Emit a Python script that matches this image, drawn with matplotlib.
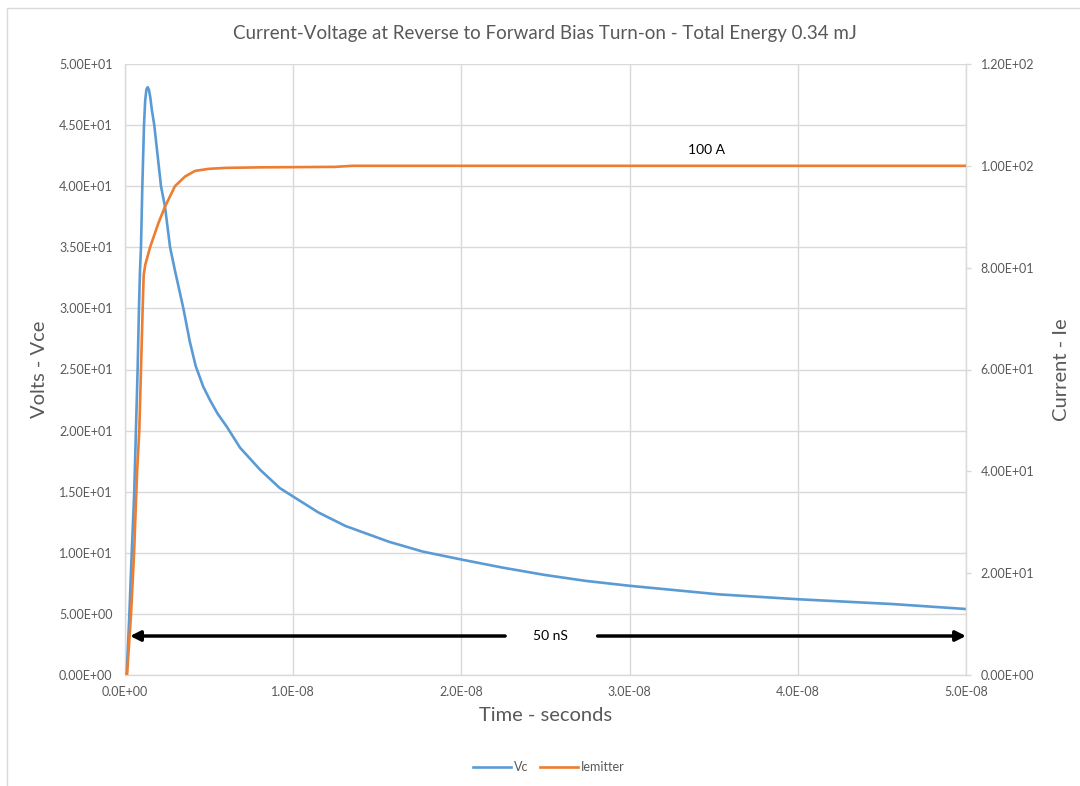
import matplotlib
matplotlib.use("Agg")
import matplotlib.pyplot as plt
from matplotlib.patches import Rectangle
from matplotlib.ticker import FuncFormatter, MultipleLocator

plt.rcParams['font.family'] = ['Lato', 'DejaVu Sans']

# ---- data (time in ns) ----
vc_t = [0.10, 0.26, 0.40, 0.55, 0.65, 0.75, 0.83, 0.89, 0.95, 1.03, 1.13, 1.20, 1.27, 1.35,
        1.42, 1.50, 1.60, 1.74, 2.14, 2.38, 2.68, 2.97, 3.47, 3.85, 4.20, 4.65, 5.05, 5.50,
        6.06, 6.84, 8.03, 9.20, 10.0, 11.5, 13.1, 15.7, 17.7, 20.0, 22.4, 24.9, 27.4, 30.0,
        35.3, 40.0, 45.7, 50.0]
vc_v = [0.0, 5.0, 10.0, 15.0, 20.0, 25.0, 30.0, 33.0, 35.0, 40.0, 45.0, 47.0, 47.9, 48.1,
        47.9, 47.3, 46.2, 45.0, 40.0, 38.3, 35.0, 33.1, 30.0, 27.3, 25.3, 23.6, 22.5, 21.4,
        20.3, 18.6, 16.8, 15.3, 14.6, 13.3, 12.2, 10.9, 10.1, 9.45, 8.8, 8.2, 7.7, 7.3,
        6.6, 6.2, 5.8, 5.4]

ie_t = [0.12, 0.36, 0.54, 0.72, 0.85, 0.95, 1.05, 1.11, 1.20, 1.49, 1.98, 2.38, 2.97,
        3.57, 4.16, 4.95, 6.0, 8.0, 12.5, 13.5, 50.0]
ie_a = [0.0, 12.0, 24.0, 40.0, 48.0, 60.0, 72.0, 78.5, 80.5, 84.0, 88.7, 92.0, 96.0,
        97.9, 99.0, 99.4, 99.6, 99.7, 99.8, 100.0, 100.0]

title = "Current-Voltage at Reverse to Forward Bias Turn-on - Total Energy 0.34 mJ"
series_names = ["Vc", "Iemitter"]

BLUE = "#5B9BD5"
ORANGE = "#ED7D31"
GRID = "#D9D9D9"
TXT = "#595959"

fig = plt.figure(figsize=(10.8, 7.86), dpi=100)
ax = fig.add_axes([125/1080, 1-675/786, (966-125)/1080, (675-64)/786])
ax2 = ax.twinx()

t_s = [t*1e-9 for t in vc_t]
ti_s = [t*1e-9 for t in ie_t]
l1, = ax.plot(t_s, vc_v, color=BLUE, lw=1.9, solid_joinstyle='round', zorder=3)
l2, = ax2.plot(ti_s, ie_a, color=ORANGE, lw=1.9, solid_joinstyle='round', zorder=3)

ax.set_xlim(0, 5e-8)
ax.set_ylim(0, 50)
ax2.set_ylim(0, 120)
ax.xaxis.set_major_locator(MultipleLocator(1e-8))
ax.yaxis.set_major_locator(MultipleLocator(5))
ax2.yaxis.set_major_locator(MultipleLocator(20))

def sci_fmt(decimals):
    def f(v, pos):
        if v == 0:
            return "0." + "0"*decimals + "E+00"
        s = f"{v:.{decimals}E}"
        mant, exp = s.split("E")
        e = int(exp)
        return f"{mant}E{'+' if e >= 0 else '-'}{abs(e):02d}"
    return FuncFormatter(f)

ax.xaxis.set_major_formatter(sci_fmt(1))
ax.yaxis.set_major_formatter(sci_fmt(2))
ax2.yaxis.set_major_formatter(sci_fmt(2))

ax.grid(True, color=GRID, lw=1.0)
ax.set_axisbelow(True)
for s in ['top']:
    ax.spines[s].set_visible(False)
    ax2.spines[s].set_visible(False)
ax.spines['right'].set_visible(False)
ax2.spines['left'].set_visible(False)
ax2.spines['bottom'].set_visible(False)
ax.spines['left'].set_color(GRID)
ax.spines['bottom'].set_color(GRID)
ax2.spines['right'].set_color(GRID)
ax.spines['left'].set_linewidth(1.0)
ax.spines['bottom'].set_linewidth(1.0)
ax2.spines['right'].set_linewidth(1.0)

ax.tick_params(axis='both', length=0, labelsize=9, labelcolor=TXT)
ax.tick_params(axis='x', pad=8)
ax.tick_params(axis='y', pad=9)
ax2.tick_params(axis='y', length=3.5, width=1, color=GRID, labelsize=9, labelcolor=TXT, pad=7)

ax.set_xlabel("Time - seconds", fontsize=14.5, color=TXT)
ax.set_ylabel("Volts - Vce", fontsize=14.5, color=TXT)
ax2.set_ylabel("Current - Ie", fontsize=14.5, color=TXT)
ax.xaxis.set_label_coords(0.5, -0.052)
ax.yaxis.set_label_coords(-0.092, 0.5)
ax2.yaxis.set_label_coords(1.104, 0.5)

fig.text(545/1080, 1-33/786, title, ha='center', va='center', fontsize=13.5, color=TXT)

# annotations
ax2.text(3.46e-8, 103.1, "100 A", ha='center', va='center', fontsize=10, color='black')
ax.text(2.53e-8, 3.19, "50 nS", ha='center', va='center', fontsize=10, color='black')
ax.annotate("", xy=(0.03e-8, 3.19), xytext=(2.26e-8, 3.19),
            arrowprops=dict(arrowstyle='-|>,head_length=0.6,head_width=0.3', color='black', lw=2.5,
                            shrinkA=0, shrinkB=0))
ax.annotate("", xy=(5.0e-8, 3.19), xytext=(2.81e-8, 3.19),
            arrowprops=dict(arrowstyle='-|>,head_length=0.6,head_width=0.3', color='black', lw=2.5,
                            shrinkA=0, shrinkB=0), annotation_clip=False)

leg = fig.legend([l1, l2], series_names, loc='center', bbox_to_anchor=(549/1080, 1-767/786),
                 ncol=2, frameon=False, fontsize=9, handlelength=3.0, columnspacing=0.9,
                 handletextpad=0.3)
for t in leg.get_texts():
    t.set_color(TXT)

# outer chart border
fig.patches.append(Rectangle((7/1080, -0.02), 1.05, 1.02 - 8/786, transform=fig.transFigure,
                             fill=False, edgecolor=GRID, lw=1.0))

fig.savefig("out.png", dpi=100)
